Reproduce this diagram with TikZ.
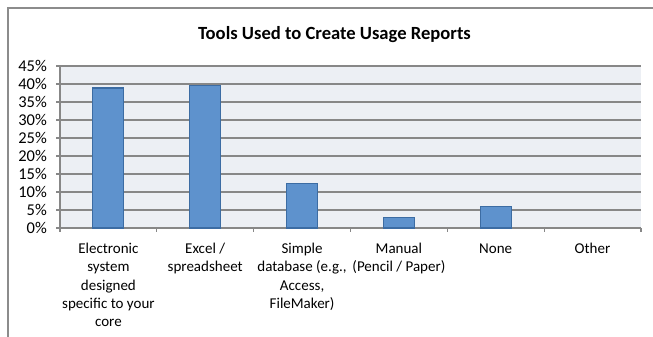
\documentclass[tikz,border=0pt]{standalone}
\usepackage{fontspec}
\setmainfont{Carlito}
\definecolor{barfill}{RGB}{94,146,205}
\definecolor{barline}{RGB}{60,108,163}
\definecolor{plotbg}{RGB}{236,239,244}
\definecolor{gridc}{RGB}{135,135,135}
\definecolor{framec}{RGB}{140,140,140}
\tikzset{
  barbox/.style={draw=barline, fill=barfill, line width=1.1pt},
  gridline/.style={draw=gridc, line width=1.1pt},
  ylab/.style={anchor=base east, inner sep=0pt, font=\fontsize{16.5}{18}\selectfont},
  catlab/.style={anchor=north, inner sep=0pt, align=center, font=\fontsize{15}{18.3}\selectfont},
  titlelab/.style={anchor=base, inner sep=0pt, font=\fontsize{18.6}{22}\selectfont\bfseries}
}
\begin{document}
\begin{tikzpicture}[x=1pt,y=-1pt]
\useasboundingbox (0,0) rectangle (653,337);
% outer frame
\draw[framec, line width=1.3pt] (8,337) -- (8,8) -- (653,8);
% title
\node[titlelab] (title) at (334.5,40) {Tools Used to Create Usage Reports};
% plot area
\fill[plotbg] (60,66) rectangle (641,228);
\foreach \i in {0,...,9} {
  \pgfmathsetmacro{\yy}{228-18*\i}
  \draw[gridline] (60,\yy) -- (641,\yy);
  \draw[gridline] (56,\yy) -- (60,\yy);
  \pgfmathtruncatemacro{\pc}{5*\i}
  \node[ylab] (y\i) at (47,\yy+5.5) {\pc\%};
}
\draw[gridline] (60,66) -- (60,228);
\foreach \k in {0,...,6} {
  \pgfmathsetmacro{\xx}{60+96.833*\k}
  \draw[gridline] (\xx,228) -- (\xx,232);
}
% bars
\foreach \v [count=\k from 0] in {38.9,39.5,12.4,3.0,5.9} {
  \pgfmathsetmacro{\cx}{108.4+96.833*\k}
  \pgfmathsetmacro{\top}{228-3.6*\v}
  \draw[barbox] (\cx-15.5,228) rectangle (\cx+15.5,\top);
}
% category labels
\node[catlab] (c1) at (108.4,240.5) {\strut Electronic\\system\\designed\\specific to your\\core};
\node[catlab] (c2) at (205.2,240.5) {\strut Excel /\\spreadsheet};
\node[catlab] (c3) at (302.1,240.5) {\strut Simple\\database (e.g.,\\Access,\\FileMaker)};
\node[catlab] (c4) at (398.9,240.5) {\strut Manual\\(Pencil / Paper)};
\node[catlab] (c5) at (495.7,240.5) {\strut None};
\node[catlab] (c6) at (592.5,240.5) {\strut Other};
\end{tikzpicture}
\end{document}
